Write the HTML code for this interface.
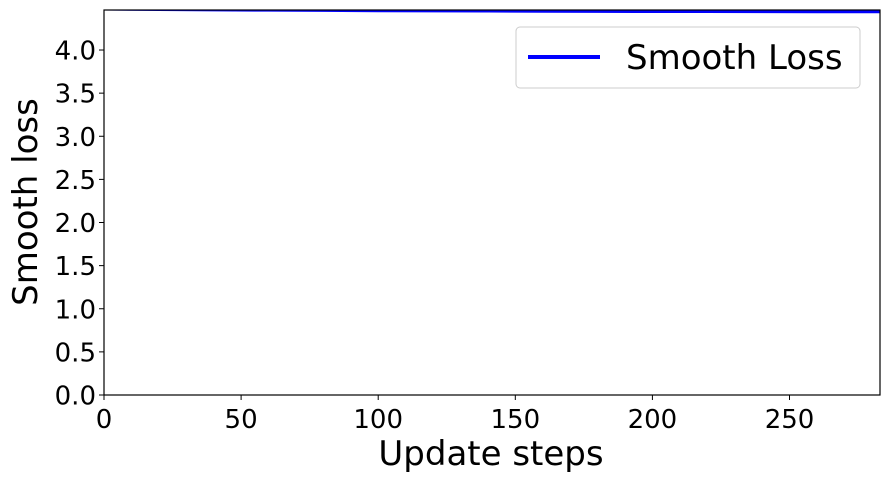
<!DOCTYPE html>
<html><head><meta charset="utf-8"><style>
body{margin:0;background:#fff;}
svg text{font-family:"DejaVu Sans","Liberation Sans",sans-serif;}
</style></head><body>
<svg id="chart" width="888" height="482">
<g id="plot"></g>
</svg>
<script>
const steps=[0,20,40,60,80,100,120,140,160,180,200,220,240,260,283];
const lossValues=[4.475,4.47,4.466,4.462,4.459,4.456,4.454,4.452,4.45,4.448,4.447,4.446,4.445,4.444,4.443];
const xTicks=[0,50,100,150,200,250];
const yTicks=[0.0,0.5,1.0,1.5,2.0,2.5,3.0,3.5,4.0];
const L=104,R=880,T=10,B=395,xMax=283,yMax=4.464;
const X=v=>L+(v/xMax)*(R-L);
const Y=v=>B-(v/yMax)*(B-T);
const NS="http://www.w3.org/2000/svg";
const g=document.getElementById('plot');
function mk(tag,attrs){const e=document.createElementNS(NS,tag);for(const k in attrs)e.setAttribute(k,attrs[k]);g.appendChild(e);return e;}
const cp=mk('clipPath',{id:'c'});const cr=document.createElementNS(NS,'rect');
cr.setAttribute('x',L);cr.setAttribute('y',T);cr.setAttribute('width',R-L);cr.setAttribute('height',B-T);cp.appendChild(cr);
const line=mk('polyline',{points:steps.map((s,i)=>X(s)+','+Y(lossValues[i])).join(' '),fill:'none',stroke:'#0000ff','stroke-width':3,'clip-path':'url(#c)'});


const frame=mk('rect',{x:L,y:T,width:R-L,height:B-T,fill:'none',stroke:'#000','stroke-width':1.2});


xTicks.forEach(t=>{
  mk('line',{x1:X(t),x2:X(t),y1:B,y2:B+5,stroke:'#000'});
  const tx=mk('text',{x:X(t),y:B+33,'text-anchor':'middle','font-size':26,fill:'#000'});tx.textContent=t;
  
  
});
yTicks.forEach(t=>{
  mk('line',{x1:L-5,x2:L,y1:Y(t),y2:Y(t),stroke:'#000'});
  const tx=mk('text',{x:L-8,y:Y(t)+9.5,'text-anchor':'end','font-size':26,fill:'#000'});tx.textContent=t.toFixed(1);
  
  
});
const xt=mk('text',{x:491,y:465,'text-anchor':'middle','font-size':34,fill:'#000'});xt.textContent='Update steps';


const yt=mk('text',{x:0,y:0,transform:'translate(37,202) rotate(-90)','text-anchor':'middle','font-size':34,fill:'#000'});yt.textContent='Smooth loss';


const lg=mk('rect',{x:516,y:27,width:344,height:61,rx:4,fill:'#fff',stroke:'#ccc'});


mk('line',{x1:528,x2:600,y1:57,y2:57,stroke:'#0000ff','stroke-width':4});
const lt=mk('text',{x:626,y:69,'font-size':34,fill:'#000'});lt.textContent='Smooth Loss';


</script>
</body></html>
